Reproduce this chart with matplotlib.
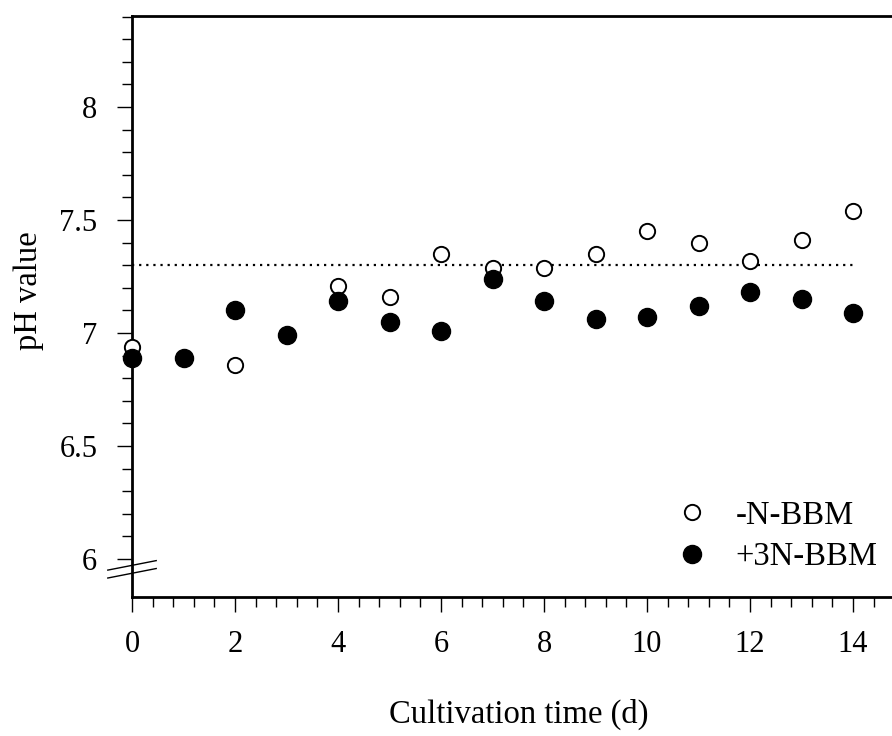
import matplotlib
matplotlib.use("Agg")
import matplotlib.pyplot as plt
from matplotlib.lines import Line2D
from matplotlib.ticker import FixedLocator
import numpy as np

plt.rcParams['font.family'] = ['Liberation Serif', 'DejaVu Serif']

# Cultivation days and measured pH for the two media
days = [0, 1, 2, 3, 4, 5, 6, 7, 8, 9, 10, 11, 12, 13, 14]
ph_minus_n = [6.94, 6.89, 6.86, 6.99, 7.21, 7.16, 7.35, 7.29, 7.29, 7.35, 7.45, 7.40, 7.32, 7.41, 7.54]
ph_plus_3n = [6.89, 6.89, 7.10, 6.99, 7.14, 7.05, 7.01, 7.24, 7.14, 7.06, 7.07, 7.12, 7.18, 7.15, 7.09]
reference_ph = 7.3
series_labels = ['-N-BBM', '+3N-BBM']
y_major = [6, 6.5, 7, 7.5, 8]
y_major_labels = ['6', '6.5', '7', '7.5', '8']
x_major = [0, 2, 4, 6, 8, 10, 12, 14]

W, H = 892, 736
fig = plt.figure(figsize=(W / 100, H / 100), dpi=100)
ax = fig.add_axes([132 / W, 1 - 597 / H, 772.5 / W, 581 / H])

ax.set_xlim(0, 15)
ax.set_ylim(5.832, 8.403)

# reference level
ax.plot([days[0], days[-1]], [reference_ph, reference_ph], linestyle=(0, (1, 2.2)),
        color='black', linewidth=1.6, zorder=2)

ax.plot(days, ph_minus_n, linestyle='none', marker='o', markersize=11,
        markerfacecolor='white', markeredgecolor='black', markeredgewidth=1.4,
        clip_on=False, zorder=3, label=series_labels[0])
ax.plot(days, ph_plus_3n, linestyle='none', marker='o', markersize=13,
        markerfacecolor='black', markeredgecolor='black',
        clip_on=False, zorder=4, label=series_labels[1])

# spines
for side in ['left', 'bottom', 'top']:
    ax.spines[side].set_linewidth(2.0)
ax.spines['right'].set_visible(False)

# ticks
ax.xaxis.set_major_locator(FixedLocator(x_major))
ax.xaxis.set_minor_locator(FixedLocator(np.round(np.arange(0, 15.01, 0.4), 2)))
ax.yaxis.set_major_locator(FixedLocator(y_major))
ax.yaxis.set_minor_locator(FixedLocator(np.round(np.arange(6.1, 8.41, 0.1), 2)))
ax.set_yticklabels(y_major_labels)
ax.tick_params(axis='both', which='major', direction='out', length=11, width=1.0,
               labelsize=22, color='black')
ax.tick_params(axis='both', which='minor', direction='out', length=7, width=1.0,
               color='black')
ax.tick_params(axis='y', which='major', pad=14)
ax.tick_params(axis='x', which='major', pad=13)
ax.tick_params(top=False, right=False, which='both')

ax.set_xlabel('Cultivation time (d)', fontsize=23.5)
ax.set_ylabel('pH value', fontsize=23.5)
ax.xaxis.set_label_coords(519 / W, 1 - 699 / H, transform=fig.transFigure)
ax.yaxis.set_label_coords(44 / W, 1 - 291 / H, transform=fig.transFigure)

# axis break marks on the y axis
for y0, y1 in [(5.951, 5.993), (5.916, 5.958)]:
    ax.add_line(Line2D([-0.47, 0.47], [y0, y1], color='black', linewidth=1.0,
                       clip_on=False, zorder=5))

leg = ax.legend(loc='upper left', bbox_to_anchor=(676 / W, 1 - 500 / H),
                bbox_transform=fig.transFigure, frameon=False, fontsize=23.5,
                borderpad=0, handlelength=1.0, handletextpad=0.82, labelspacing=0.35,
                borderaxespad=0)

fig.savefig('out.png', dpi=100)
